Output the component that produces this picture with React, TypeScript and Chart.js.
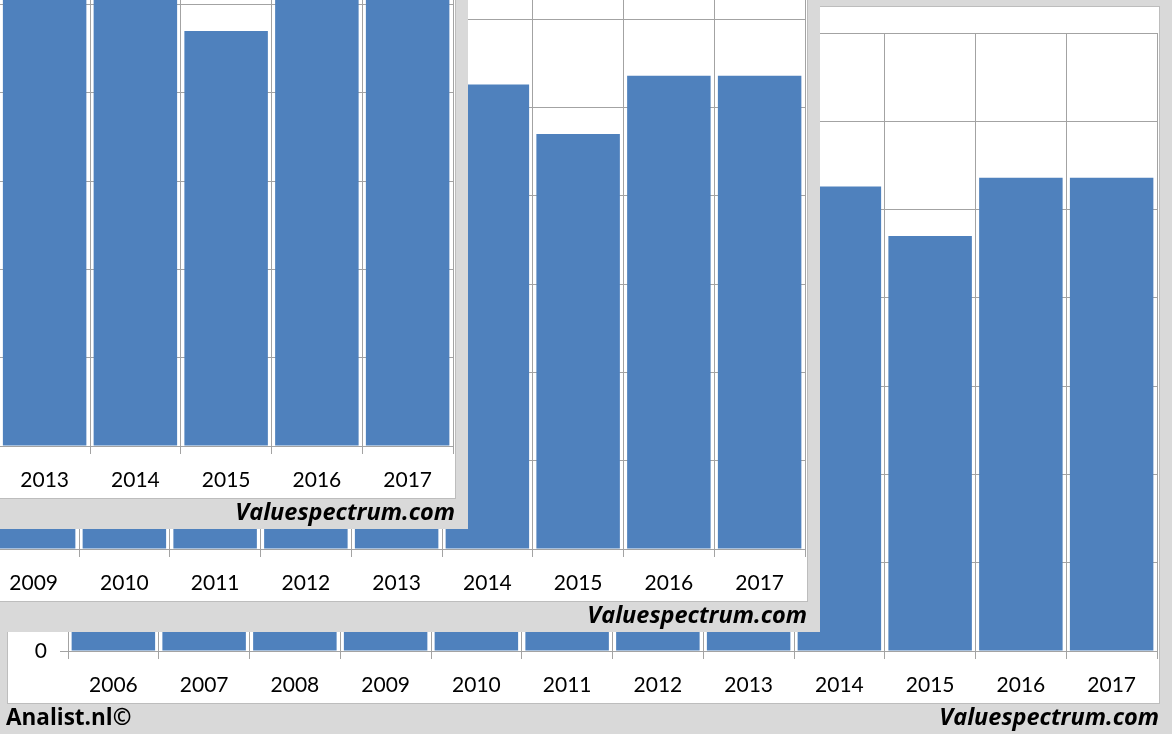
import React, { useEffect, useRef } from "react";
import { Chart, registerables } from "chart.js";

Chart.register(...registerables);

// Data
const categories = ["2006", "2007", "2008", "2009", "2010", "2011", "2012", "2013", "2014", "2015", "2016", "2017"];
const values = [3.3, 3.7, 4.0, 4.2, 4.5, 4.8, 5.1, 5.8, 5.26, 4.7, 5.36, 5.36];
const yMin = 0;
const yMax = 7;
const yStep = 1;
const brandLeft = "Analist.nl©";
const brandRight = "Valuespectrum.com";

// Layout (each copy of the picture is shifted up-left over the previous one)
const W = 1172;
const H = 734;
const layerShifts = [0, 1, 2];
const SHIFT_X = -352;
const SHIFT_Y = -102.5;

const FONT = "Lato, 'Open Sans', 'Liberation Sans', sans-serif";
const BRAND_FONT = "'Open Sans', Lato, 'Liberation Sans', sans-serif";
const GRID = "#a3a3a3";

function Panel({ x, y }: { x: number; y: number }) {
  const ref = useRef<HTMLCanvasElement | null>(null);
  useEffect(() => {
    if (!ref.current) return;
    const chart = new Chart(ref.current, {
      type: "bar",
      data: {
        labels: categories,
        datasets: [
          {
            data: values,
            backgroundColor: "#4f81bd",
            barPercentage: 0.92,
            categoryPercentage: 1,
          },
        ],
      },
      options: {
        responsive: false,
        animation: false,
        devicePixelRatio: 1,
        layout: { padding: { left: 0, right: 2, top: 27, bottom: 0 } },
        plugins: { legend: { display: false }, tooltip: { enabled: false }, title: { display: false } },
        scales: {
          x: {
            grid: { color: GRID, offset: true, tickLength: 8, drawTicks: true, lineWidth: 1 },
            border: { color: GRID },
            ticks: { color: "#000", font: { family: FONT, size: 21 }, padding: 14, maxRotation: 0, autoSkip: false },
            afterFit: (s: any) => {
              s.height = 52;
            },
          },
          y: {
            min: yMin,
            max: yMax,
            grid: { color: GRID, tickLength: 8, lineWidth: 1 },
            border: { color: GRID },
            ticks: { stepSize: yStep, color: "#000", font: { family: FONT, size: 21 }, padding: 13 },
            afterFit: (s: any) => {
              s.width = 60;
            },
          },
        },
      },
    });
    return () => chart.destroy();
  }, []);

  return (
    <div
      style={{
        position: "absolute",
        left: x,
        top: y,
        width: W,
        height: H,
        background: "#d9d9d9",
        overflow: "hidden",
      }}
    >
      <div
        style={{
          position: "absolute",
          left: 7,
          top: 6,
          width: 1153,
          height: 698,
          background: "#fff",
          border: "1px solid #bdbdbd",
          boxSizing: "border-box",
        }}
      />
      <canvas
        ref={ref}
        width={1151}
        height={697}
        style={{ position: "absolute", left: 8, top: 6, width: 1151, height: 697, display: "block" }}
      />
      <div
        style={{
          position: "absolute",
          left: 6,
          top: 702,
          font: `bold 22.5px ${BRAND_FONT}`,
          lineHeight: "30px",
          color: "#000",
          whiteSpace: "nowrap",
        }}
      >
        {brandLeft}
      </div>
      <div
        style={{
          position: "absolute",
          right: 13,
          top: 701,
          font: `italic bold 23.5px ${BRAND_FONT}`,
          lineHeight: "30px",
          color: "#000",
          whiteSpace: "nowrap",
        }}
      >
        {brandRight}
      </div>
    </div>
  );
}

export default function App() {
  return (
    <div style={{ position: "absolute", left: 0, top: 0, width: W, height: H, overflow: "hidden", background: "#d9d9d9" }}>
      {layerShifts.map((k) => (
        <Panel key={k} x={Math.round(k * SHIFT_X)} y={Math.round(k * SHIFT_Y)} />
      ))}
    </div>
  );
}
